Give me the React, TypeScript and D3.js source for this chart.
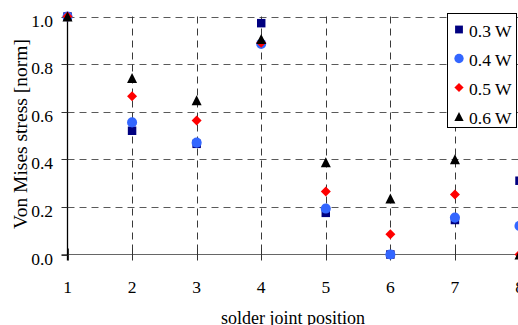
import { useEffect, useRef } from 'react'
import * as d3 from 'd3'

const positions = [1, 2, 3, 4, 5, 6, 7, 8]
const w03 = [1.0, 0.52, 0.465, 0.972, 0.175, 0.0, 0.145, 0.31]
const w04 = [1.0, 0.555, 0.47, 0.885, 0.193, 0.0, 0.155, 0.12]
const w05 = [1.0, 0.665, 0.563, 0.89, 0.265, 0.085, 0.252, 0.0]
const w06 = [1.0, 0.742, 0.648, 0.905, 0.388, 0.235, 0.4, 0.0]
const yTicks = [0, 0.2, 0.4, 0.6, 0.8, 1.0]
const seriesNames = ['0.3 W', '0.4 W', '0.5 W', '0.6 W']

const diamond = {
  draw(ctx: any, size: number) {
    const r = Math.sqrt(size) / 2
    ctx.moveTo(0, -r)
    ctx.lineTo(r, 0)
    ctx.lineTo(0, r)
    ctx.lineTo(-r, 0)
    ctx.closePath()
  },
}
const triangle = {
  draw(ctx: any, size: number) {
    const r = Math.sqrt(size) / 2
    ctx.moveTo(0, -r)
    ctx.lineTo(r, r)
    ctx.lineTo(-r, r)
    ctx.closePath()
  },
}

const SERIES = [
  { name: seriesNames[0], values: w03, color: '#000080', type: d3.symbolSquare, size: 72 },
  { name: seriesNames[1], values: w04, color: '#3366FF', type: d3.symbolCircle, size: 80 },
  { name: seriesNames[2], values: w05, color: '#FF0000', type: diamond, size: 100 },
  { name: seriesNames[3], values: w06, color: '#000000', type: triangle, size: 100 },
]

const FONT = "'Liberation Serif', 'DejaVu Serif', serif"

export default function App() {
  const svgRef = useRef<SVGSVGElement>(null)

  useEffect(() => {
    if (!svgRef.current) return
    const W = 518
    const H = 325
    const svg = d3.select(svgRef.current)
    svg.selectAll('*').remove()
    svg.attr('width', W).attr('height', H).style('font-family', FONT)

    const x = d3.scaleLinear().domain([1, 8]).range([67.5, 519.5])
    const y = d3.scaleLinear().domain([0, 1]).range([254.5, 16.5])

    // horizontal grid
    svg.selectAll('.hgrid')
      .data(yTicks.filter(d => d > 0))
      .join('line')
      .attr('x1', x(1)).attr('x2', W)
      .attr('y1', d => Math.round(y(d)) + 0.5).attr('y2', d => Math.round(y(d)) + 0.5)
      .attr('stroke', '#5a5a5a').attr('stroke-dasharray', '7,5')

    // vertical grid
    svg.selectAll('.vgrid')
      .data(positions.slice(1))
      .join('line')
      .attr('x1', d => Math.round(x(d)) + 0.5).attr('x2', d => Math.round(x(d)) + 0.5)
      .attr('y1', y(1)).attr('y2', y(0))
      .attr('stroke', '#3a3a3a').attr('stroke-dasharray', '7,5')

    // x axis
    svg.append('line')
      .attr('x1', 61.5).attr('x2', W)
      .attr('y1', y(0)).attr('y2', y(0))
      .attr('stroke', '#666').attr('stroke-width', 1.2)

    svg.selectAll('.xtick')
      .data(positions)
      .join('line')
      .attr('x1', d => Math.round(x(d)) + 0.5).attr('x2', d => Math.round(x(d)) + 0.5)
      .attr('y1', y(0) - 6).attr('y2', y(0) + 6)
      .attr('stroke', '#333')

    // y axis
    svg.append('line')
      .attr('x1', x(1)).attr('x2', x(1))
      .attr('y1', y(1)).attr('y2', y(0) + 6)
      .attr('stroke', '#000').attr('stroke-width', 1.3)

    svg.selectAll('.ytick')
      .data(yTicks)
      .join('line')
      .attr('x1', 61.5).attr('x2', x(1))
      .attr('y1', d => Math.round(y(d)) + 0.5).attr('y2', d => Math.round(y(d)) + 0.5)
      .attr('stroke', '#333')

    svg.selectAll('.ylabel')
      .data(yTicks)
      .join('text')
      .attr('x', 53).attr('y', d => y(d) + 10)
      .attr('text-anchor', 'end')
      .style('font-family', FONT).attr('font-size', 17.5)
      .attr('fill', '#000')
      .text(d => d3.format('.1f')(d))

    svg.selectAll('.xlabel')
      .data(positions)
      .join('text')
      .attr('x', d => x(d)).attr('y', 293)
      .attr('text-anchor', 'middle')
      .style('font-family', FONT).attr('font-size', 17.5)
      .attr('fill', '#000')
      .text(d => String(d))

    svg.append('text')
      .attr('x', 293).attr('y', 324)
      .attr('text-anchor', 'middle')
      .style('font-family', FONT).attr('font-size', 18)
      .text('solder joint position')

    svg.append('text')
      .attr('transform', 'translate(27,134) rotate(-90)')
      .attr('text-anchor', 'middle')
      .style('font-family', FONT).attr('font-size', 19.5)
      .text('Von Mises stress [norm]')

    // points
    SERIES.forEach(s => {
      const sym = d3.symbol().type(s.type as any).size(s.size)
      svg.append('g')
        .selectAll('path')
        .data(s.values)
        .join('path')
        .attr('transform', (d, i) => `translate(${x(positions[i])},${y(d)})`)
        .attr('d', sym() as string)
        .attr('fill', s.color)
    })

    // legend
    const lg = svg.append('g')
    lg.append('rect')
      .attr('x', 447.5).attr('y', 13.5)
      .attr('width', 69).attr('height', 114)
      .attr('fill', '#fff').attr('stroke', '#000')
    SERIES.forEach((s, i) => {
      const base = 37 + i * 29
      const sym = d3.symbol().type(s.type as any).size(s.size * 0.85)
      lg.append('path')
        .attr('transform', `translate(459,${base - 7.5})`)
        .attr('d', sym() as string)
        .attr('fill', s.color)
      lg.append('text')
        .attr('x', 469).attr('y', base)
        .style('font-family', FONT).attr('font-size', 17.5)
        .text(s.name)
    })
  }, [])

  return (
    <div style={{ position: 'fixed', left: 0, top: 0, background: '#fff' }}>
      <svg ref={svgRef} style={{ display: 'block' }} />
    </div>
  )
}
